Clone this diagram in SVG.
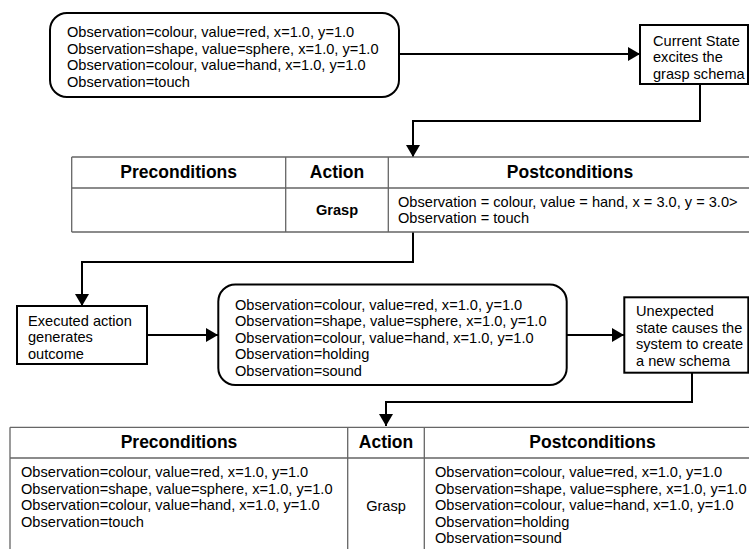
<svg xmlns="http://www.w3.org/2000/svg" width="749" height="549" viewBox="0 0 749 549">
  <defs>
    <marker id="arrow" markerUnits="userSpaceOnUse" markerWidth="12" markerHeight="14" refX="12" refY="7" orient="auto">
      <path d="M0,0 L12,7 L0,14 z" fill="#000"/>
    </marker>
    <style>
      text { font-family: "Liberation Sans", Arial, sans-serif; fill: #000; }
      .t { font-size: 14.6px; }
      .hd { font-size: 17.5px; font-weight: bold; text-anchor: middle; }
      .bold { font-weight: bold; }
      .mid { text-anchor: middle; }
      .box { fill: #fff; stroke: #000; stroke-width: 2; }
      .grid { fill: none; stroke: #666; stroke-width: 1.3; }
      .conn { fill: none; stroke: #000; stroke-width: 2; }
    </style>
  </defs>
  <rect width="749" height="549" fill="#fff"/>

  <!-- connectors -->
  <g id="connectors">
    <path class="conn" d="M399,54 H640" marker-end="url(#arrow)"/>
    <path class="conn" d="M700,84 V121 H413 V157" marker-end="url(#arrow)"/>
    <path class="conn" d="M413,232 V262 H82 V306" marker-end="url(#arrow)"/>
    <path class="conn" d="M147,335 H218" marker-end="url(#arrow)"/>
    <path class="conn" d="M567,335 H624" marker-end="url(#arrow)"/>
    <path class="conn" d="M692,373 V402 H386 V426" marker-end="url(#arrow)"/>
  </g>

  <!-- current observations -->
  <g id="state1">
    <rect class="box" x="50" y="13" width="349" height="84" rx="17" ry="17"/>
    <text class="t" x="67" y="37">Observation=colour, value=red, x=1.0, y=1.0</text>
    <text class="t" x="67" y="53.7">Observation=shape, value=sphere, x=1.0, y=1.0</text>
    <text class="t" x="67" y="70.3">Observation=colour, value=hand, x=1.0, y=1.0</text>
    <text class="t" x="67" y="87">Observation=touch</text>
  </g>

  <g id="excite">
    <rect class="box" x="640" y="25" width="108" height="59"/>
    <text class="t" x="653" y="45.5">Current State</text>
    <text class="t" x="653" y="62">excites the</text>
    <text class="t" x="653" y="78.5">grasp schema</text>
  </g>

  <!-- grasp schema table -->
  <g id="schema1">
    <rect x="71.7" y="157" width="681" height="75" fill="#fff"/>
    <path class="grid" d="M71.7,157 H752 M71.7,188 H752 M71.7,232 H752 M71.7,157 V232 M285.7,157 V232 M388.3,157 V232 M752,157 V232"/>
    <text class="hd" x="178.7" y="177.5">Preconditions</text>
    <text class="hd" x="337" y="177.5">Action</text>
    <text class="hd" x="570" y="177.5">Postconditions</text>
    <text class="t bold mid" x="337" y="214.5">Grasp</text>
    <text class="t" x="398" y="206.5">Observation = colour, value = hand, x = 3.0, y = 3.0&gt;</text>
    <text class="t" x="398" y="223">Observation = touch</text>
  </g>

  <g id="executed">
    <rect class="box" x="17" y="306" width="130" height="58"/>
    <text class="t" x="28" y="325.5">Executed action</text>
    <text class="t" x="28" y="342">generates</text>
    <text class="t" x="28" y="358.5">outcome</text>
  </g>

  <g id="state2">
    <rect class="box" x="218.3" y="284.5" width="348.4" height="100.5" rx="17" ry="17"/>
    <text class="t" x="235" y="309.5">Observation=colour, value=red, x=1.0, y=1.0</text>
    <text class="t" x="235" y="326">Observation=shape, value=sphere, x=1.0, y=1.0</text>
    <text class="t" x="235" y="342.5">Observation=colour, value=hand, x=1.0, y=1.0</text>
    <text class="t" x="235" y="359">Observation=holding</text>
    <text class="t" x="235" y="375.5">Observation=sound</text>
  </g>

  <g id="unexpected">
    <rect class="box" x="624.3" y="297.3" width="124" height="75.4"/>
    <text class="t" x="636" y="316">Unexpected</text>
    <text class="t" x="636" y="332.5">state causes the</text>
    <text class="t" x="636" y="349">system to create</text>
    <text class="t" x="636" y="365.5">a new schema</text>
  </g>

  <!-- new schema table -->
  <g id="schema2">
    <rect x="10" y="427.3" width="751" height="130" fill="#fff"/>
    <path class="grid" d="M10,427.3 H761 M10,458 H761 M10,427.3 V560 M347.7,427.3 V560 M424.3,427.3 V560"/>
    <text class="hd" x="179" y="448.3">Preconditions</text>
    <text class="hd" x="386" y="448.3">Action</text>
    <text class="hd" x="592.5" y="448.3">Postconditions</text>
    <text class="t" x="21" y="477">Observation=colour, value=red, x=1.0, y=1.0</text>
    <text class="t" x="21" y="493.5">Observation=shape, value=sphere, x=1.0, y=1.0</text>
    <text class="t" x="21" y="510">Observation=colour, value=hand, x=1.0, y=1.0</text>
    <text class="t" x="21" y="526.5">Observation=touch</text>
    <text class="t mid" x="386" y="511">Grasp</text>
    <text class="t" x="435" y="477">Observation=colour, value=red, x=1.0, y=1.0</text>
    <text class="t" x="435" y="493.5">Observation=shape, value=sphere, x=1.0, y=1.0</text>
    <text class="t" x="435" y="510">Observation=colour, value=hand, x=1.0, y=1.0</text>
    <text class="t" x="435" y="526.5">Observation=holding</text>
    <text class="t" x="435" y="543">Observation=sound</text>
  </g>
</svg>
